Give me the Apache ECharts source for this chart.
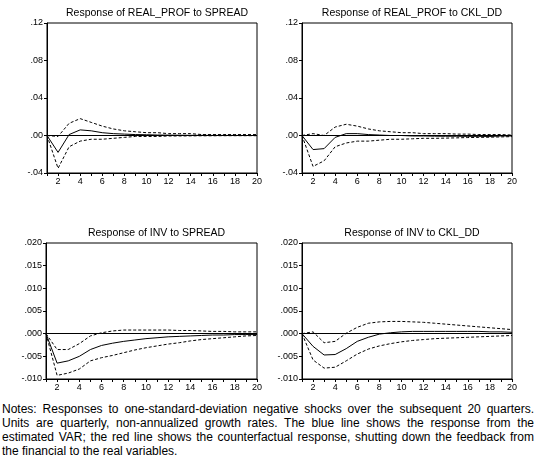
<!DOCTYPE html>
<html><head><meta charset="utf-8">
<script src="https://cdn.jsdelivr.net/npm/echarts@6/dist/echarts.min.js"></script>
<style>body{margin:0;background:#fff}#c{width:536px;height:395px}
#n{position:absolute;left:2px;top:402px;width:532px;font:12px "Liberation Sans",Arial,sans-serif;line-height:14px;text-align:justify;color:#000}</style>
</head><body><div id="c"></div>
<div id="n">Notes: Responses to one-standard-deviation negative shocks over the subsequent 20 quarters. Units are quarterly, non-annualized growth rates. The blue line shows the response from the estimated VAR; the red line shows the counterfactual response, shutting down the feedback from the financial to the real variables.</div>
<script>
const periods=[1,2,3,4,5,6,7,8,9,10,11,12,13,14,15,16,17,18,19,20];
const titles=["Response of REAL_PROF to SPREAD","Response of REAL_PROF to CKL_DD","Response of INV to SPREAD","Response of INV to CKL_DD"];
const p1Mid=[0,-0.018,0.001,0.006,0.005,0.003,0.002,0.0015,0.001,0.0008,0.0005,0.0004,0.0003,0.0002,0.0002,0.0001,0.0001,0.0001,0,0];
const p1Up=[0,-0.001,0.013,0.018,0.014,0.010,0.007,0.005,0.004,0.003,0.003,0.002,0.002,0.002,0.001,0.001,0.001,0.001,0.001,0.001];
const p1Lo=[0,-0.035,-0.012,-0.006,-0.004,-0.004,-0.003,-0.002,-0.001,-0.001,-0.001,-0.0005,-0.0005,-0.0004,-0.0003,-0.0003,-0.0002,-0.0002,-0.0002,-0.0002];
const p2Mid=[0,-0.015,-0.014,-0.002,0.002,0.002,0.001,0.0005,0,0,-0.0005,-0.0005,-0.0007,-0.0008,-0.0008,-0.0009,-0.0009,-0.001,-0.0005,-0.0005];
const p2Up=[0,0.002,0.000,0.009,0.012,0.010,0.007,0.005,0.004,0.003,0.003,0.002,0.002,0.002,0.0015,0.0015,0.001,0.001,0.001,0.0005];
const p2Lo=[0,-0.033,-0.027,-0.012,-0.008,-0.006,-0.006,-0.005,-0.004,-0.004,-0.0035,-0.003,-0.003,-0.0028,-0.0025,-0.0022,-0.002,-0.0018,-0.0015,-0.0012];
const p3Mid=[0,-0.0065,-0.006,-0.005,-0.0035,-0.0026,-0.0021,-0.0017,-0.0014,-0.0011,-0.0009,-0.0007,-0.0006,-0.0005,-0.0004,-0.0003,-0.0003,-0.0002,-0.0002,-0.0002];
const p3Up=[0,-0.0035,-0.0035,-0.0022,-0.0005,0.0002,0.0006,0.0008,0.0008,0.0008,0.0008,0.0008,0.0007,0.0007,0.0006,0.0005,0.0005,0.0004,0.0004,0.0004];
const p3Lo=[0,-0.0092,-0.0087,-0.0078,-0.006,-0.0053,-0.0048,-0.0042,-0.0036,-0.0031,-0.0027,-0.0023,-0.002,-0.0016,-0.0013,-0.0011,-0.0009,-0.0007,-0.0005,-0.0004];
const p4Mid=[0,-0.0028,-0.0047,-0.0046,-0.0033,-0.0017,-0.0008,-0.0001,0.0002,0.0004,0.0005,0.0005,0.0005,0.0005,0.0005,0.0005,0.0005,0.0004,0.0004,0.0003];
const p4Up=[0,0.0004,-0.002,-0.0017,0.0001,0.0014,0.0023,0.0026,0.0027,0.0027,0.0026,0.0025,0.0023,0.0021,0.0019,0.0017,0.0015,0.0013,0.0011,0.0009];
const p4Lo=[0,-0.0058,-0.0076,-0.0074,-0.006,-0.0045,-0.0034,-0.0027,-0.0022,-0.0018,-0.0015,-0.0013,-0.0011,-0.001,-0.0009,-0.0008,-0.0007,-0.0006,-0.0005,-0.0004];
const yTop=[-0.04,0.12,0.04], yBot=[-0.010,0.020,0.005];
const panels=[[p1Mid,p1Up,p1Lo,yTop,2],[p2Mid,p2Up,p2Lo,yTop,2],[p3Mid,p3Up,p3Lo,yBot,3],[p4Mid,p4Up,p4Lo,yBot,3]];
const grids=[{left:47,top:23,width:210,height:150},{left:302,top:23,width:210,height:150},{left:46,top:243,width:211,height:136},{left:302,top:243,width:210,height:136}];
const F='"Liberation Sans",Arial,sans-serif';
function fmt(v,d){if(Math.abs(v)<1e-9)v=0;let s=v.toFixed(d);return s.replace(/^(-?)0\./,'$1.');}
const opt={animation:false,title:[],grid:[],xAxis:[],yAxis:[],series:[]};
panels.forEach((p,i)=>{
 const g=grids[i];
 opt.grid.push(Object.assign({containLabel:false},g));
 opt.title.push({text:titles[i],left:g.left+g.width/2,top:g.top-20,textAlign:'center',textStyle:{fontFamily:F,fontSize:10.5,fontWeight:'normal',color:'#000'}});
 opt.xAxis.push({type:'value',gridIndex:i,min:1,max:20,interval:1,axisLine:{onZero:false,lineStyle:{color:'#000'}},axisTick:{length:3,lineStyle:{color:'#000'}},splitLine:{show:false},
  axisLabel:{fontFamily:F,fontSize:9,color:'#000',margin:4,formatter:v=>v%2===0?String(v):''}});
 opt.yAxis.push({type:'value',gridIndex:i,min:p[3][0],max:p[3][1],interval:p[3][2],axisLine:{show:true,lineStyle:{color:'#000'}},axisTick:{show:true,length:3,lineStyle:{color:'#000'}},splitLine:{show:false},
  axisLabel:{fontFamily:F,fontSize:9,color:'#000',margin:4,formatter:v=>fmt(v,p[4])}});
 const mk=(arr,dash,extra)=>Object.assign({type:'line',xAxisIndex:i,yAxisIndex:i,data:periods.map((x,k)=>[x,arr[k]]),symbol:'none',lineStyle:{color:'#000',width:1,type:dash}},extra||{});
 opt.series.push(mk(p[0],'solid',{markLine:{symbol:'none',silent:true,label:{show:false},lineStyle:{color:'#000',width:1,type:'solid'},data:[{yAxis:0}]}}));
 opt.series.push(mk(p[1],[3,2]));
 opt.series.push(mk(p[2],[3,2]));
});
const c=echarts.init(document.getElementById('c'));
opt.graphic=grids.map(g=>({type:'rect',shape:{x:g.left,y:g.top,width:g.width,height:g.height},style:{fill:'none',stroke:'#000',lineWidth:1},silent:true}));
c.setOption(opt);
</script></body></html>
